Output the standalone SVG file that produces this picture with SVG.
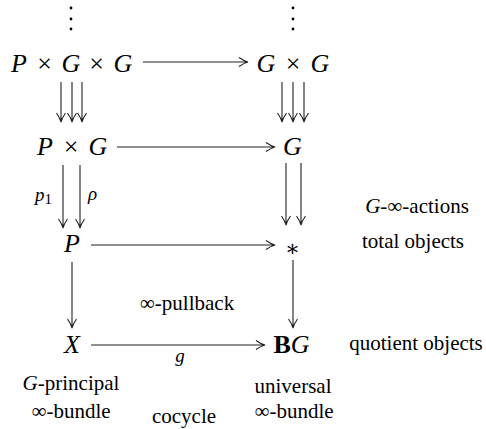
<svg xmlns="http://www.w3.org/2000/svg" width="486" height="429" viewBox="0 0 486 429">
<g id="dots-left" fill="#000"><circle cx="71" cy="8" r="1.4"/><circle cx="71" cy="19" r="1.4"/><circle cx="71" cy="29" r="1.4"/></g>
<g id="dots-right" fill="#000"><circle cx="293" cy="8" r="1.4"/><circle cx="293" cy="19" r="1.4"/><circle cx="293" cy="29" r="1.4"/></g>
<g id="PxGxG"><text font-family="Liberation Serif" font-style="italic" font-size="26" y="72" text-anchor="middle"><tspan x="19">P</tspan><tspan x="44.5" font-style="normal">&#215;</tspan><tspan x="71">G</tspan><tspan x="96.5" font-style="normal">&#215;</tspan><tspan x="123">G</tspan></text></g>
<g id="GxG"><text font-family="Liberation Serif" font-style="italic" font-size="26" y="72" text-anchor="middle"><tspan x="266">G</tspan><tspan x="293" font-style="normal">&#215;</tspan><tspan x="320">G</tspan></text></g>
<g id="PxG"><text font-family="Liberation Serif" font-style="italic" font-size="26" y="155" text-anchor="middle"><tspan x="45">P</tspan><tspan x="71" font-style="normal">&#215;</tspan><tspan x="98">G</tspan></text></g>
<g id="G"><text font-family="Liberation Serif" font-style="italic" font-size="26" x="292.5" y="155" text-anchor="middle">G</text></g>
<g id="P"><text font-family="Liberation Serif" font-style="italic" font-size="26" x="72" y="252" text-anchor="middle">P</text></g>
<g id="star"><text x="292.5" y="256" text-anchor="middle" font-family="DejaVu Serif" font-size="22">&#8727;</text></g>
<g id="X"><text font-family="Liberation Serif" font-style="italic" font-size="26" x="72" y="353" text-anchor="middle">X</text></g>
<g id="BG"><text font-family="Liberation Serif" font-style="italic" font-size="26" x="291.5" y="353" text-anchor="middle"><tspan font-style="normal" font-weight="bold">B</tspan>G</text></g>
<g id="connectors" stroke="#222" stroke-width="1.1" fill="none">
<path d="M143,62 H248 M239,57.5 Q244,61 248,62 Q244,63 239,66.5"/>
<path d="M61,82 V122 M56.5,113 Q60,118 61,122 Q62,118 65.5,113"/>
<path d="M72,82 V122 M67.5,113 Q71,118 72,122 Q73,118 76.5,113"/>
<path d="M82,82 V122 M77.5,113 Q81,118 82,122 Q83,118 86.5,113"/>
<path d="M282,82 V122 M277.5,113 Q281,118 282,122 Q283,118 286.5,113"/>
<path d="M293,82 V122 M288.5,113 Q292,118 293,122 Q294,118 297.5,113"/>
<path d="M304,82 V122 M299.5,113 Q303,118 304,122 Q305,118 308.5,113"/>
<path d="M117,147 H275 M266,142.5 Q271,146 275,147 Q271,148 266,151.5"/>
<path d="M63,165 V228 M58.5,219 Q62,224 63,228 Q64,224 67.5,219"/>
<path d="M80,165 V228 M75.5,219 Q79,224 80,228 Q81,224 84.5,219"/>
<path d="M286,163 V225 M281.5,216 Q285,221 286,225 Q287,221 290.5,216"/>
<path d="M301,163 V225 M296.5,216 Q300,221 301,225 Q302,221 305.5,216"/>
<path d="M91,245 H275 M266,240.5 Q271,244 275,245 Q271,246 266,249.5"/>
<path d="M72,262 V328 M67.5,319 Q71,324 72,328 Q73,324 76.5,319"/>
<path d="M293,260 V328 M288.5,319 Q292,324 293,328 Q294,324 297.5,319"/>
<path d="M91,345 H265 M256,340.5 Q261,344 265,345 Q261,346 256,349.5"/>
</g>
<g id="edge-labels">
<text font-family="Liberation Serif" font-style="italic" font-size="19" x="35" y="201">p<tspan font-style="normal" font-size="15" dy="3">1</tspan></text>
<text font-family="Liberation Serif" font-style="italic" font-size="19" x="88" y="200">&#961;</text>
<text font-family="Liberation Serif" font-style="italic" font-size="19" x="180" y="362" text-anchor="middle">g</text>
</g>
<g id="annotations">
<text font-family="Liberation Serif" font-size="21" text-anchor="middle" x="417" y="213"><tspan font-style="italic">G</tspan>-&#8734;-actions</text>
<text font-family="Liberation Serif" font-size="21" text-anchor="middle" x="413" y="248">total objects</text>
<text font-family="Liberation Serif" font-size="21" text-anchor="middle" x="187" y="310">&#8734;-pullback</text>
<text font-family="Liberation Serif" font-size="21" text-anchor="middle" x="416" y="350">quotient objects</text>
<text font-family="Liberation Serif" font-size="21" text-anchor="middle" x="71" y="390"><tspan font-style="italic">G</tspan>-principal</text>
<text font-family="Liberation Serif" font-size="21" text-anchor="middle" x="71" y="418">&#8734;-bundle</text>
<text font-family="Liberation Serif" font-size="21" text-anchor="middle" x="184" y="423">cocycle</text>
<text font-family="Liberation Serif" font-size="21" text-anchor="middle" x="293" y="393">universal</text>
<text font-family="Liberation Serif" font-size="21" text-anchor="middle" x="294" y="418">&#8734;-bundle</text>
</g>
</svg>
